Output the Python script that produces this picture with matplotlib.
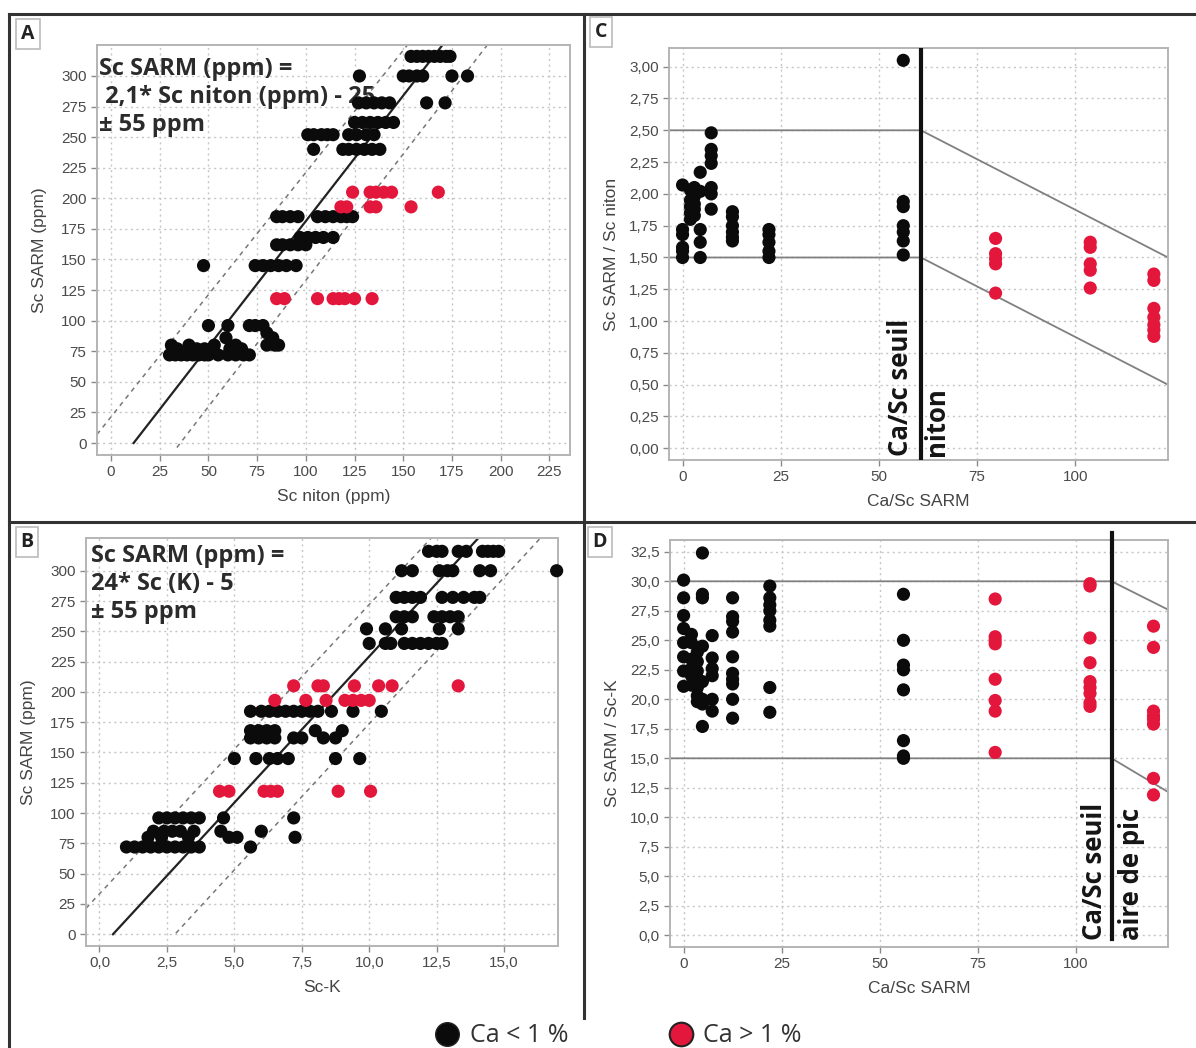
import matplotlib
matplotlib.use("Agg")
import matplotlib.pyplot as plt
from matplotlib.lines import Line2D
from matplotlib.ticker import FuncFormatter, MultipleLocator

BLACK = "#0b0b0b"
RED = "#e3173c"

# ---- panel A: Sc SARM (ppm) vs Sc niton (ppm); rows keyed by SARM value
a_black_rows = {
    316: [154, 157, 160, 163, 166, 169, 172, 174],
    300: [127.5, 150, 153, 157, 160, 175, 183],
    278: [127, 131, 135, 139, 143, 162, 171.5],
    262: [125, 129, 133, 137, 141, 145],
    252: [101, 104, 108, 111, 114, 122, 126, 131, 135],
    240: [104, 119, 122, 126, 130, 134, 138],
    185: [85, 88, 92, 96, 106, 110, 114, 118, 121, 124],
    168: [97, 101, 105, 109, 114],
    162: [85, 88, 92, 96, 100],
    145: [47.5, 74, 78, 82, 86, 90, 95],
    96: [50, 60, 71, 74, 78],
    90: [80],
    86: [59, 83],
    80: [31, 40, 53, 64, 80, 84, 86],
    77: [34, 44, 48, 61, 67],
    72: [30, 33, 36, 39, 42, 45, 48, 50, 55, 60, 64, 68, 71],
}
a_red_rows = {
    205: [124, 133, 136, 140, 144, 168],
    193: [118, 121, 133, 136, 154],
    118: [85, 89, 106, 114, 117, 120, 125, 134],
}

# ---- panel B: Sc SARM (ppm) vs Sc-K
b_black_rows = {
    316: [12.2, 12.5, 12.7, 13.3, 13.6, 14.2, 14.4, 14.6, 14.8],
    300: [11.2, 11.6, 12.6, 12.9, 13.1, 14.1, 14.5, 16.95],
    278: [11.0, 11.3, 11.6, 11.9, 12.7, 13.1, 13.5, 13.9, 14.1],
    262: [11.0, 11.3, 11.6, 12.4, 12.7, 13.0, 13.3],
    252: [9.9, 10.6, 11.2, 12.6, 13.3],
    240: [10.0, 10.6, 10.8, 11.3, 11.6, 11.9, 12.2, 12.5, 12.7],
    184: [5.6, 6.0, 6.3, 6.6, 6.9, 7.2, 7.5, 7.8, 8.1, 8.6, 9.4, 10.45],
    168: [5.6, 5.9, 6.2, 6.5, 8.0, 9.0],
    162: [5.6, 5.9, 6.2, 6.5, 7.2, 7.5, 8.3, 8.75],
    145: [5.0, 5.8, 6.3, 6.6, 7.0, 8.75, 9.65],
    96: [2.2, 2.5, 2.8, 3.1, 3.4, 3.7, 4.6, 7.2],
    85: [2.0, 2.4, 2.7, 3.0, 3.5, 4.5, 6.0],
    80: [1.8, 2.3, 3.3, 4.8, 5.1, 7.25],
    72: [1.0, 1.3, 1.6, 1.9, 2.2, 2.5, 2.8, 3.1, 3.4, 3.7, 5.6],
}
b_red_rows = {
    205: [7.2, 8.1, 8.3, 9.45, 10.35, 10.85, 13.3],
    193: [6.5, 7.65, 8.4, 9.1, 9.4, 9.7, 10.0],
    118: [4.45, 4.8, 6.1, 6.35, 6.6, 8.85, 10.05],
}

# ---- panel C: Sc SARM / Sc niton vs Ca/Sc SARM; columns keyed by Ca/Sc
c_black_cols = {
    0: [2.07, 1.72, 1.68, 1.58, 1.55, 1.50],
    2: [2.03, 1.95, 1.90, 1.85, 1.80],
    3: [2.05, 1.98, 1.92, 1.88, 1.83],
    4.5: [2.17, 2.02, 1.72, 1.62, 1.50],
    7.3: [2.48, 2.35, 2.30, 2.24, 2.05, 2.00, 1.88],
    12.7: [1.86, 1.82, 1.75, 1.70, 1.66, 1.63],
    22: [1.72, 1.68, 1.62, 1.55, 1.50],
    56.2: [3.05, 1.94, 1.90, 1.75, 1.70, 1.63, 1.52],
}
c_red_cols = {
    79.7: [1.65, 1.53, 1.49, 1.45, 1.22],
    103.8: [1.62, 1.58, 1.45, 1.40, 1.26],
    120: [1.37, 1.32, 1.10, 1.03, 0.97, 0.93, 0.88],
}

# ---- panel D: Sc SARM / Sc-K vs Ca/Sc SARM
d_black_cols = {
    0: [30.1, 28.6, 27.1, 26.0, 24.8, 23.6, 22.4, 21.1],
    2: [25.5, 24.8, 23.4, 22.6, 22.0, 21.2],
    3.5: [24.0, 23.2, 22.4, 21.8, 21.0, 20.3, 19.8],
    4.8: [32.4, 28.9, 28.6, 24.5, 21.5, 20.0, 19.6, 17.7],
    7.3: [25.4, 23.5, 22.6, 22.0, 20.0, 19.0],
    12.5: [28.6, 27.0, 26.6, 25.7, 23.6, 22.2, 21.7, 21.3, 20.0, 18.4],
    22: [29.6, 28.6, 28.0, 27.5, 26.7, 26.2, 21.0, 18.9],
    56.1: [28.9, 25.0, 22.9, 22.5, 20.8, 16.5, 15.2, 15.0],
}
d_red_cols = {
    79.5: [28.5, 25.3, 25.0, 24.7, 21.7, 19.9, 19.0, 15.5],
    103.7: [29.8, 29.6, 25.2, 23.1, 21.5, 21.0, 20.5, 19.7, 19.4],
    119.9: [26.2, 24.4, 19.0, 18.6, 18.3, 17.9, 13.3, 11.9],
}

# guide lines (x0, y0, x1, y1) in data units
a_fit = (11.6, 0, 170, 325)
a_band = [(-7.2, 7, 152, 325), (33.8, -3.7, 193, 325)]
b_fit = (0.5, 0, 14.05, 327)
b_band = [(-0.5, 21.4, 12.3, 327), (2.83, 0.8, 16.35, 327)]
c_threshold = 60.7
c_limits = [(-4, 2.5, 60.7, 2.5, 123.6, 1.5), (-4, 1.5, 60.7, 1.5, 123.6, 0.5)]
d_threshold = 109.2
d_limits = [(-4, 30, 109.2, 30, 123.6, 27.6), (-4, 15, 109.2, 15, 123.6, 12.15)]

sarm_ticks = list(range(0, 301, 25))
legend_labels = ["Ca < 1 %", "Ca > 1 %"]


def rows_to_xy(rows):
    xs, ys = [], []
    for level, values in rows.items():
        xs += values
        ys += [level] * len(values)
    return xs, ys


def cols_to_xy(cols):
    xs, ys = [], []
    for level, values in cols.items():
        xs += [level] * len(values)
        ys += values
    return xs, ys


def comma(fmt):
    return FuncFormatter(lambda v, p: fmt.format(v).replace(".", ","))


def style_axes(ax):
    ax.grid(True, color="#c6c6c6", linestyle=(0, (1.5, 2.5)), linewidth=1.0)
    ax.set_axisbelow(True)
    for s in ax.spines.values():
        s.set_color("#b4b4b4")
        s.set_linewidth(1.4)
    ax.tick_params(colors="#8a8a8a", labelcolor="#4a4a4a", labelsize=11,
                   length=4, width=1)
    for lab in ax.get_xticklabels() + ax.get_yticklabels():
        lab.set_family("Liberation Sans")


def scatter(ax, xy, color):
    ax.scatter(xy[0], xy[1], s=90, color=color, edgecolors="none", zorder=3,
               clip_on=False)


def panel_letter(x, y, letter):
    fig.text(x, y, letter, ha="center", va="center", fontsize=14,
             fontweight="bold", family="Open Sans", color="#222222",
             bbox=dict(boxstyle="square,pad=0.25", fc="white", ec="#bbbbbb", lw=1.2))


W, H = 1196, 1048
fig = plt.figure(figsize=(W / 100, H / 100), dpi=100)

axA = fig.add_axes([97 / W, 1 - 455 / H, 473 / W, 410 / H])
axB = fig.add_axes([86 / W, 1 - 946 / H, 472 / W, 408 / H])
axC = fig.add_axes([669 / W, 1 - 460 / H, 499 / W, 412 / H])
axD = fig.add_axes([670 / W, 1 - 947 / H, 498 / W, 407 / H])

label_kw = dict(fontsize=12.5, color="#444444", family="Liberation Sans")
eq_kw = dict(fontsize=17, fontweight="bold", family="Open Sans", color="#2b2b2b",
             va="top", ha="left", linespacing=1.22, zorder=1)
vt_kw = dict(rotation=90, ha="center", va="bottom", fontsize=18.5,
             fontweight="bold", family="Open Sans", color="#151515", zorder=5)

# A
axA.set_xlim(-7.2, 235.6)
axA.set_ylim(-9.8, 325.3)
axA.set_xticks(list(range(0, 226, 25)))
axA.set_yticks(sarm_ticks)
style_axes(axA)
axA.plot(a_fit[0::2], a_fit[1::2], color="#222222", lw=1.6, zorder=2)
for seg in a_band:
    axA.plot(seg[0::2], seg[1::2], color="#777777", lw=1.1, ls=(0, (3, 3)), zorder=2)
scatter(axA, rows_to_xy(a_black_rows), BLACK)
scatter(axA, rows_to_xy(a_red_rows), RED)
axA.text(0.004, 0.97, "Sc SARM (ppm) =\n 2,1* Sc niton (ppm) - 25\n\u00b1 55 ppm",
         transform=axA.transAxes, **eq_kw)
axA.set_xlabel("Sc niton (ppm)", labelpad=7, **label_kw)
axA.set_ylabel("Sc SARM (ppm)", labelpad=10, **label_kw)

# B
axB.set_xlim(-0.5, 17.0)
axB.set_ylim(-9.7, 327)
axB.set_xticks([0, 2.5, 5, 7.5, 10, 12.5, 15])
axB.set_yticks(sarm_ticks)
axB.xaxis.set_major_formatter(comma("{:.1f}"))
style_axes(axB)
axB.plot(b_fit[0::2], b_fit[1::2], color="#222222", lw=1.6, zorder=2)
for seg in b_band:
    axB.plot(seg[0::2], seg[1::2], color="#777777", lw=1.1, ls=(0, (3, 3)), zorder=2)
scatter(axB, rows_to_xy(b_black_rows), BLACK)
scatter(axB, rows_to_xy(b_red_rows), RED)
axB.text(0.01, 0.985, "Sc SARM (ppm) =\n24* Sc (K) - 5\n\u00b1 55 ppm",
         transform=axB.transAxes, **eq_kw)
axB.set_xlabel("Sc-K", labelpad=7, **label_kw)
axB.set_ylabel("Sc SARM (ppm)", labelpad=10, **label_kw)

# C
axC.set_xlim(-3.45, 123.6)
axC.set_ylim(-0.092, 3.147)
axC.set_xticks([0, 25, 50, 75, 100])
axC.yaxis.set_major_locator(MultipleLocator(0.25))
axC.yaxis.set_major_formatter(comma("{:.2f}"))
style_axes(axC)
for seg in c_limits:
    axC.plot(seg[0::2], seg[1::2], color="#808080", lw=1.3, zorder=2)
axC.axvline(c_threshold, color="#111111", lw=3, zorder=4)
scatter(axC, cols_to_xy(c_black_cols), BLACK)
scatter(axC, cols_to_xy(c_red_cols), RED)
axC.text(55.6, -0.06, "Ca/Sc seuil", **vt_kw)
axC.text(64.6, -0.06, "niton", **vt_kw)
axC.set_xlabel("Ca/Sc SARM", labelpad=7, **label_kw)
axC.set_ylabel("Sc SARM / Sc niton", labelpad=7, **label_kw)

# D
axD.set_xlim(-3.47, 123.6)
axD.set_ylim(-0.99, 33.5)
axD.set_xticks([0, 25, 50, 75, 100])
axD.yaxis.set_major_locator(MultipleLocator(2.5))
axD.yaxis.set_major_formatter(comma("{:.1f}"))
style_axes(axD)
for seg in d_limits:
    axD.plot(seg[0::2], seg[1::2], color="#808080", lw=1.3, zorder=2)
axD.plot([d_threshold, d_threshold], [-0.3, 34.1], color="#111111", lw=3,
         zorder=4, clip_on=False)
scatter(axD, cols_to_xy(d_black_cols), BLACK)
scatter(axD, cols_to_xy(d_red_cols), RED)
axD.text(104.8, -0.4, "Ca/Sc seuil", **vt_kw)
axD.text(114.2, -0.4, "aire de pic", **vt_kw)
axD.set_xlabel("Ca/Sc SARM", labelpad=7, **label_kw)
axD.set_ylabel("Sc SARM / Sc-K", labelpad=7, **label_kw)

# frame lines
frame_kw = dict(color="#333333", lw=2.2, transform=fig.transFigure)
fig.add_artist(Line2D([9 / W, 1], [1 - 14 / H] * 2, **frame_kw))
fig.add_artist(Line2D([9 / W] * 2, [0, 1 - 14 / H], **frame_kw))
fig.add_artist(Line2D([583.5 / W] * 2, [1 - 1018 / H, 1 - 14 / H], **frame_kw))
fig.add_artist(Line2D([9 / W, 1], [1 - 522 / H] * 2, **frame_kw))

panel_letter(28 / W, 1 - 34 / H, "A")
panel_letter(27 / W, 1 - 542 / H, "B")
panel_letter(601 / W, 1 - 32 / H, "C")
panel_letter(600 / W, 1 - 542 / H, "D")

handles = [
    Line2D([], [], ls="none", marker="o", markersize=17, markerfacecolor=BLACK,
           markeredgecolor="#222222"),
    Line2D([], [], ls="none", marker="o", markersize=17, markerfacecolor=RED,
           markeredgecolor="#222222", markeredgewidth=1.5),
]
fig.legend(handles, legend_labels, loc="center", bbox_to_anchor=(0.517, 1 - 1036 / H),
           ncol=2, frameon=False, handlelength=1.0, handletextpad=0.4,
           columnspacing=4.0, borderpad=0,
           prop=dict(family="Open Sans", size=18), labelcolor="#333333")

fig.savefig("out.png", dpi=100)
